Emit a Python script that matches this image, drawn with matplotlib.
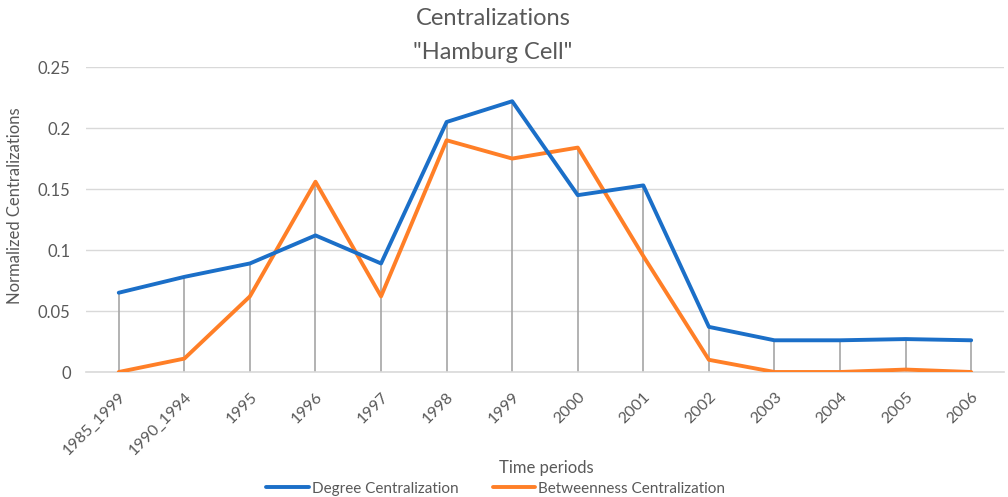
import matplotlib.pyplot as plt
from matplotlib.ticker import FixedLocator

periods = ["1985_1999", "1990_1994", "1995", "1996", "1997", "1998", "1999",
           "2000", "2001", "2002", "2003", "2004", "2005", "2006"]
degree = [0.065, 0.078, 0.089, 0.112, 0.089, 0.205, 0.222,
          0.145, 0.153, 0.037, 0.026, 0.026, 0.027, 0.026]
betweenness = [0.0, 0.011, 0.062, 0.156, 0.062, 0.190, 0.175,
               0.184, 0.095, 0.010, 0.0, 0.0, 0.002, 0.0]

plt.rcParams['font.family'] = ['Lato', 'DejaVu Sans']
txt = '#595959'

fig = plt.figure(figsize=(10.08, 4.97), dpi=100)
ax = fig.add_axes([0.0853, 0.2515, 0.9107, 0.6135])

x = list(range(len(periods)))

# drop lines from the higher series down to the axis
tops = [max(d, b) for d, b in zip(degree, betweenness)]
ax.vlines(x, 0, tops, color='#a6a6a6', linewidth=1.2, zorder=2)

ax.plot(x, degree, color='#1b6fc8', linewidth=2.8, label='Degree Centralization',
        solid_joinstyle='round', solid_capstyle='round', zorder=4)
ax.plot(x, betweenness, color='#ff7f27', linewidth=2.8, label='Betweenness Centralization',
        solid_joinstyle='round', solid_capstyle='round', zorder=3)

ax.set_xlim(-0.5, len(periods) - 0.5)
ax.set_ylim(0, 0.25)
ax.yaxis.set_major_locator(FixedLocator([0, 0.05, 0.1, 0.15, 0.2, 0.25]))
ax.set_yticklabels(["0", "0.05", "0.1", "0.15", "0.2", "0.25"])
ax.set_xticks(x)
ax.set_xticklabels(periods, rotation=45, ha='right', va='top', rotation_mode='anchor')

ax.grid(axis='y', color='#d9d9d9', linewidth=1.0, zorder=0)
for s in ['top', 'right', 'left']:
    ax.spines[s].set_visible(False)
ax.spines['bottom'].set_color('#d9d9d9')
ax.spines['bottom'].set_linewidth(1.2)
ax.tick_params(axis='both', length=0, colors=txt)
ax.tick_params(axis='y', pad=11, labelsize=12)
ax.tick_params(axis='x', pad=13, labelsize=11.5)

ax.set_ylabel('Normalized Centralizations', color=txt, fontsize=12)
ax.yaxis.set_label_coords(-0.0686, 0.544)
fig.text(0.542, 0.058, 'Time periods', color=txt, fontsize=12, ha='center', va='center')
fig.text(0.489, 0.963, 'Centralizations', color=txt, fontsize=17, ha='center', va='center')
fig.text(0.489, 0.895, '"Hamburg Cell"', color=txt, fontsize=17, ha='center', va='center')

leg = fig.legend(loc='center', bbox_to_anchor=(0.492, 0.017), ncol=2, frameon=False,
                 fontsize=11, handlelength=2.8, handletextpad=0.2, columnspacing=2.2,
                 borderaxespad=0)
for t in leg.get_texts():
    t.set_color(txt)

fig.savefig('out.png', dpi=100)
